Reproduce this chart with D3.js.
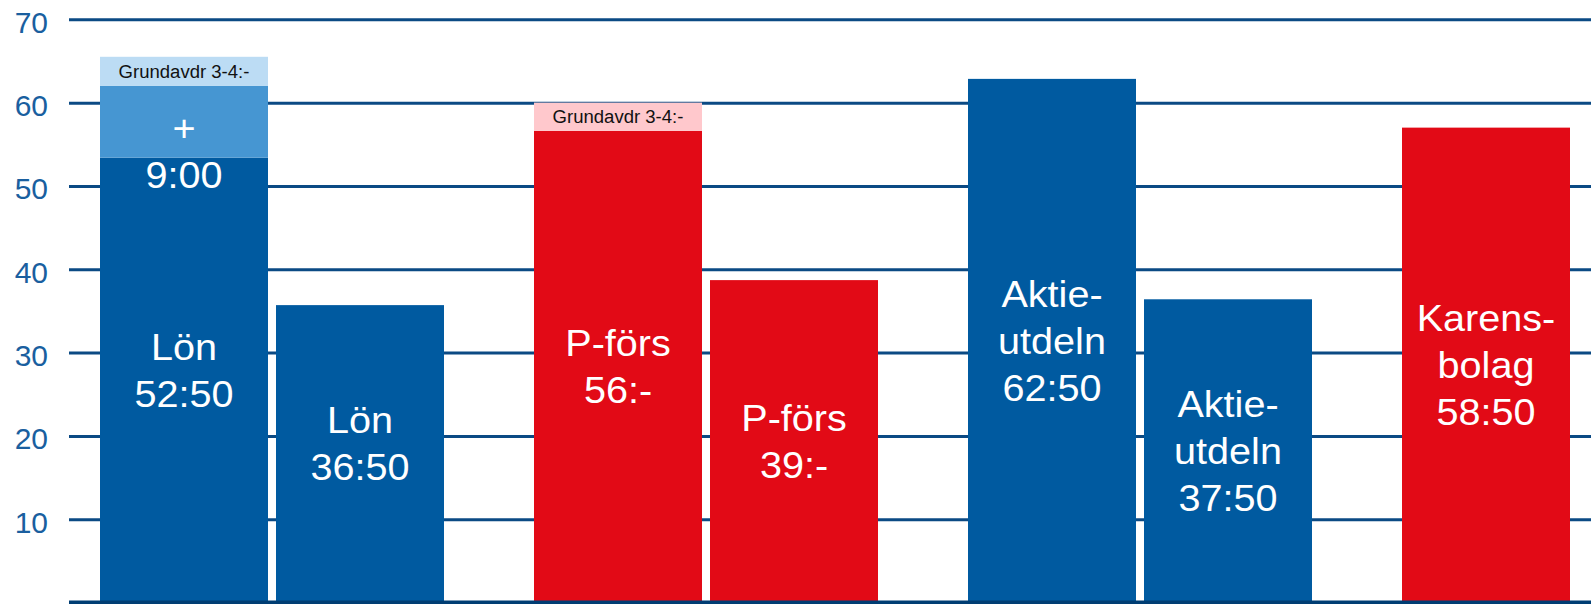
<!DOCTYPE html>
<html><head><meta charset="utf-8">
<script src="https://cdn.jsdelivr.net/npm/d3@7"></script>
<style>
body{margin:0;background:#fff;overflow:hidden;}
svg{display:block;font-family:"Liberation Sans",Arial,sans-serif;}
</style>
</head><body><svg id="c" width="1591" height="604"></svg>
<script>
// ---- data ----
const groups = ["Lön", "P-förs", "Aktieutdelning", "Karensbolag"];
const members = ["före", "efter"];
const barGroup = ["Lön", "Lön", "P-förs", "P-förs", "Aktieutdelning", "Aktieutdelning", "Karensbolag"];
const barMember = ["före", "efter", "före", "efter", "före", "efter", "före"];
const baseValues = [53.4, 35.7, 56.6, 38.7, 62.85, 36.4, 57.0];
const extraValues = [8.6, 0, 0, 0, 0, 0, 0];
const grundValues = [3.5, 0, 3.4, 0, 0, 0, 0];
const baseLabels = [
  ["Lön", "52:50"], ["Lön", "36:50"],
  ["P-förs", "56:-"], ["P-förs", "39:-"],
  ["Aktie-", "utdeln", "62:50"], ["Aktie-", "utdeln", "37:50"],
  ["Karens-", "bolag", "58:50"]
];
const extraLabels = [["+", "9:00"], [], [], [], [], [], []];
const grundLabel = "Grundavdr 3-4:-";
const tickValues = [10, 20, 30, 40, 50, 60, 70];

// ---- layout ----
const W = 1591, H = 604;
const axisX = 69;
const labelNudge = {"Lön": -10, "P-förs": 0, "Aktieutdelning": 0, "Karensbolag": 0};
const svg = d3.select("#c");
const y = d3.scaleLinear().domain([0, 70]).range([602.6, 19.3]);
const x0 = d3.scaleBand().domain(groups).range([55, 55 + 4 * 434]).padding(0);
const x1 = d3.scaleBand().domain(members).range([45, 389]).paddingInner(8 / 176).paddingOuter(0);

const baseColor = d3.scaleOrdinal().domain(groups).range(["#005aa0", "#e20a16", "#005aa0", "#e20a16"]);
const extraColor = d3.scaleOrdinal().domain(groups).range(["#4696d2", "#f0646e", "#4696d2", "#f0646e"]);
const grundColor = d3.scaleOrdinal().domain(groups).range(["#bcdcf4", "#ffc8cc", "#bcdcf4", "#ffc8cc"]);

// gridlines + tick labels
const axis = d3.axisLeft(y).tickValues(tickValues).tickSize(-(W - axisX)).tickPadding(21);
const gA = svg.append("g").attr("transform", `translate(${axisX},0)`).call(axis);
gA.select(".domain").remove();
gA.selectAll(".tick line").attr("stroke", "#0b4a84").attr("stroke-width", 3);
gA.selectAll(".tick text").attr("fill", "#1a5f9f").attr("font-size", 30)
  .attr("font-family", "'Liberation Sans',Arial,sans-serif").attr("dy", 13);

const bars = baseValues.map((v, i) => ({
  i, g: barGroup[i], m: barMember[i], base: v,
  extra: extraValues[i], grund: grundValues[i],
  x: x0(barGroup[i]) + x1(barMember[i]), w: x1.bandwidth()
}));

const gB = svg.append("g");
gB.selectAll("rect.base").data(bars).join("rect").attr("class", "base")
  .attr("x", d => d.x).attr("width", d => d.w)
  .attr("y", d => y(d.base)).attr("height", d => y(0) - y(d.base))
  .attr("fill", d => baseColor(d.g));
gB.selectAll("rect.extra").data(bars.filter(d => d.extra > 0)).join("rect").attr("class", "extra")
  .attr("x", d => d.x).attr("width", d => d.w)
  .attr("y", d => y(d.base + d.extra)).attr("height", d => y(d.base) - y(d.base + d.extra))
  .attr("fill", d => extraColor(d.g));
gB.selectAll("rect.grund").data(bars.filter(d => d.grund > 0)).join("rect").attr("class", "grund")
  .attr("x", d => d.x).attr("width", d => d.w)
  .attr("y", d => y(d.base + d.extra + d.grund)).attr("height", d => y(d.base + d.extra) - y(d.base + d.extra + d.grund))
  .attr("fill", d => grundColor(d.g));

// labels
const LH = 47, FS = 37;
function block(lines, cx, cy) {
  const first = cy - (lines.length - 1) / 2 * LH + 13;
  lines.forEach((t, k) => {
    svg.append("text")
      .attr("transform", `translate(${cx},${first + k * LH}) scale(1.07,1)`)
      .attr("text-anchor", "middle").attr("font-size", FS).attr("fill", "#fff")
      .text(t);
  });
}
bars.forEach(d => {
  const cx = d.x + d.w / 2;
  block(baseLabels[d.i], cx, (y(d.base) + y(0)) / 2 + labelNudge[d.g]);
  if (extraLabels[d.i].length) block(extraLabels[d.i], cx, y(d.base) - 6);
  if (d.grund > 0) {
    const top = y(d.base + d.extra + d.grund), bot = y(d.base + d.extra);
    svg.append("text")
      .attr("transform", `translate(${cx},${(top + bot) / 2 + 6.5}) scale(1.03,1)`)
      .attr("text-anchor", "middle").attr("font-size", 18).attr("fill", "#111")
      .text(grundLabel);
  }
});

// baseline
svg.append("line").attr("x1", axisX).attr("x2", W).attr("y1", y(0)).attr("y2", y(0))
  .attr("stroke", "#003d73").attr("stroke-width", 4);
</script>
</body></html>
